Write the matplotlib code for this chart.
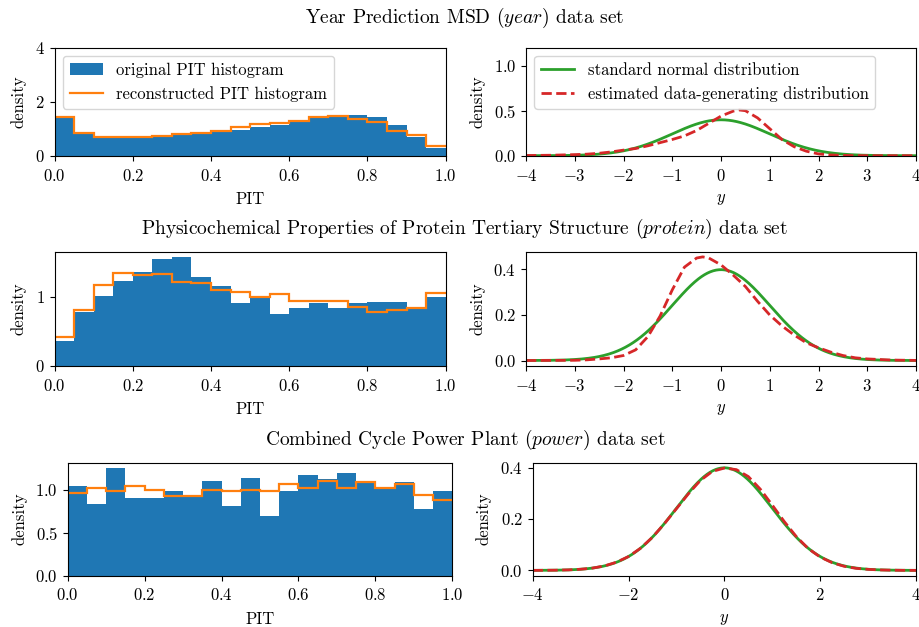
import numpy as np
import matplotlib
matplotlib.use("Agg")
import matplotlib.pyplot as plt

plt.rcParams["font.family"] = ["cmr10"]
plt.rcParams["mathtext.fontset"] = "cm"
plt.rcParams["axes.formatter.use_mathtext"] = True
plt.rcParams["font.size"] = 12
plt.rcParams["axes.unicode_minus"] = True
plt.rcParams["xtick.major.pad"] = 5
plt.rcParams["axes.labelpad"] = 6

# ---------- datos ----------
pit_edges = np.linspace(0.0, 1.0, 21)

year_original = [1.38, 0.79, 0.73, 0.70, 0.70, 0.73, 0.78, 0.82, 0.87, 0.97,
                 1.07, 1.15, 1.25, 1.38, 1.43, 1.50, 1.42, 1.14, 0.68, 0.27]
year_reconstructed = [1.42, 0.84, 0.70, 0.69, 0.71, 0.73, 0.81, 0.84, 0.92, 1.07,
                      1.18, 1.20, 1.30, 1.45, 1.47, 1.35, 1.25, 0.90, 0.75, 0.35]

protein_original = [0.35, 0.77, 1.01, 1.23, 1.35, 1.54, 1.57, 1.28, 1.15, 0.90,
                    0.98, 0.75, 0.83, 0.91, 0.84, 0.90, 0.92, 0.92, 0.83, 0.99]
protein_reconstructed = [0.41, 0.81, 1.16, 1.34, 1.31, 1.33, 1.21, 1.19, 1.10, 1.07,
                         0.99, 1.04, 0.93, 0.94, 0.94, 0.85, 0.77, 0.80, 0.83, 1.05]

power_original = [1.04, 0.83, 1.25, 0.90, 0.90, 0.98, 0.94, 1.10, 0.81, 1.14,
                  0.69, 0.98, 1.17, 1.12, 1.19, 1.09, 1.01, 1.09, 0.77, 0.98]
power_reconstructed = [0.96, 1.02, 0.98, 1.04, 0.99, 0.93, 0.93, 0.99, 0.98, 0.99,
                       0.98, 1.07, 1.02, 1.10, 1.02, 1.09, 1.02, 1.06, 0.94, 0.88]

# densidad estimada
year_y = [-4, -3.5, -3, -2.75, -2.5, -2.25, -2, -1.75, -1.5, -1.25, -1, -0.75,
          -0.5, -0.25, 0, 0.25, 0.375, 0.5, 0.75, 1, 1.25, 1.5, 1.75, 2, 2.25,
          2.5, 2.75, 3, 4]
year_est = [0.002, 0.005, 0.012, 0.017, 0.027, 0.042, 0.062, 0.08, 0.11, 0.145,
            0.18, 0.22, 0.28, 0.36, 0.44, 0.495, 0.508, 0.50, 0.42, 0.30, 0.18,
            0.10, 0.05, 0.02, 0.008, 0.003, 0.001, 0.0, 0.0]

protein_y = [-4, -3.5, -3, -2.75, -2.5, -2.25, -2, -1.75, -1.5, -1.25, -1, -0.75,
             -0.5, -0.375, -0.25, 0, 0.25, 0.5, 0.75, 1, 1.25, 1.5, 1.75, 2,
             2.25, 2.5, 2.75, 3, 3.5, 4]
protein_est = [0.0, 0.0005, 0.001, 0.003, 0.007, 0.012, 0.022, 0.047, 0.105, 0.195,
               0.31, 0.41, 0.45, 0.455, 0.45, 0.42, 0.375, 0.325, 0.26, 0.20,
               0.152, 0.112, 0.078, 0.056, 0.037, 0.022, 0.012, 0.007, 0.002, 0.0005]

power_y = [-4, -3.75, -3.5, -3.25, -3, -2.75, -2.5, -2.25, -2, -1.75, -1.5, -1.25,
           -1, -0.75, -0.5, -0.25, 0, 0.25, 0.5, 0.75, 1, 1.25, 1.5, 1.75, 2,
           2.25, 2.5, 2.75, 3, 3.25, 3.5, 3.75, 4]
power_est = [0.0001, 0.0004, 0.0009, 0.002, 0.0044, 0.009, 0.0175, 0.032, 0.054,
             0.086, 0.129, 0.182, 0.240, 0.298, 0.350, 0.385, 0.398, 0.392, 0.365,
             0.316, 0.254, 0.190, 0.132, 0.085, 0.052, 0.030, 0.016, 0.008, 0.004,
             0.0018, 0.0008, 0.0003, 0.0001]

titles = [r"Year Prediction MSD ($\mathit{year}$) data set",
          r"Physicochemical Properties of Protein Tertiary Structure ($\mathit{protein}$) data set",
          r"Combined Cycle Power Plant ($\mathit{power}$) data set"]

y_grid = np.linspace(-4, 4, 401)
std_normal = np.exp(-0.5 * y_grid ** 2) / np.sqrt(2 * np.pi)

# ---------- figura ----------
W, H = 919, 627
fig = plt.figure(figsize=(W / 100, H / 100), dpi=100)


def px(l, t, r, b):
    return fig.add_axes([l / W, 1 - b / H, (r - l) / W, (b - t) / H])


rows = [
    dict(hist=(54.5, 47.7, 445.7, 155.7), dens=(526, 47.7, 916, 155.7), title_y=18,
         orig=year_original, rec=year_reconstructed, ey=year_y, est=year_est),
    dict(hist=(54.5, 251.7, 445.7, 365.7), dens=(526, 251.7, 916, 365.7), title_y=229,
         orig=protein_original, rec=protein_reconstructed, ey=protein_y, est=protein_est),
    dict(hist=(67.7, 462.7, 452.3, 575.5), dens=(532.7, 462.7, 916, 575.5), title_y=440,
         orig=power_original, rec=power_reconstructed, ey=power_y, est=power_est),
]

for i, r in enumerate(rows):
    fig.text(465 / W, 1 - r["title_y"] / H, titles[i], ha="center", va="center", fontsize=14)

    ax = px(*r["hist"])
    ax.stairs(r["orig"], pit_edges, fill=True, color="C0", label="original PIT histogram")
    ax.stairs(r["rec"], pit_edges, baseline=None, color="C1", lw=1.6,
              label="reconstructed PIT histogram")
    ax.set_xlim(0, 1)
    ax.set_ylim(bottom=0)
    ax.set_xlabel("PIT")
    ax.set_ylabel("density")

    ax2 = px(*r["dens"])
    ax2.plot(y_grid, std_normal, color="C2", lw=2, label="standard normal distribution")
    ax2.plot(r["ey"], r["est"], color="C3", lw=2, ls="--",
             label="estimated data-generating distribution")
    ax2.set_xlim(-4, 4)
    ax2.set_xlabel("$y$")
    ax2.set_ylabel("density")

    if i == 0:
        ax.set_ylim(0, 4)
        ax.set_yticks([0, 2, 4])
        ax.legend(loc="upper left")
        ax2.set_ylim(0, 1.2)
        ax2.set_yticks([0.0, 0.5, 1.0])
        ax2.set_xticks(range(-4, 5))
        ax2.legend(loc="upper left")
    elif i == 1:
        ax.set_yticks([0, 1])
        ax2.set_xticks(range(-4, 5))
    else:
        ax.set_yticks([0.0, 0.5, 1.0])
        ax2.set_xticks([-4, -2, 0, 2, 4])

fig.savefig("out.png", dpi=100)
